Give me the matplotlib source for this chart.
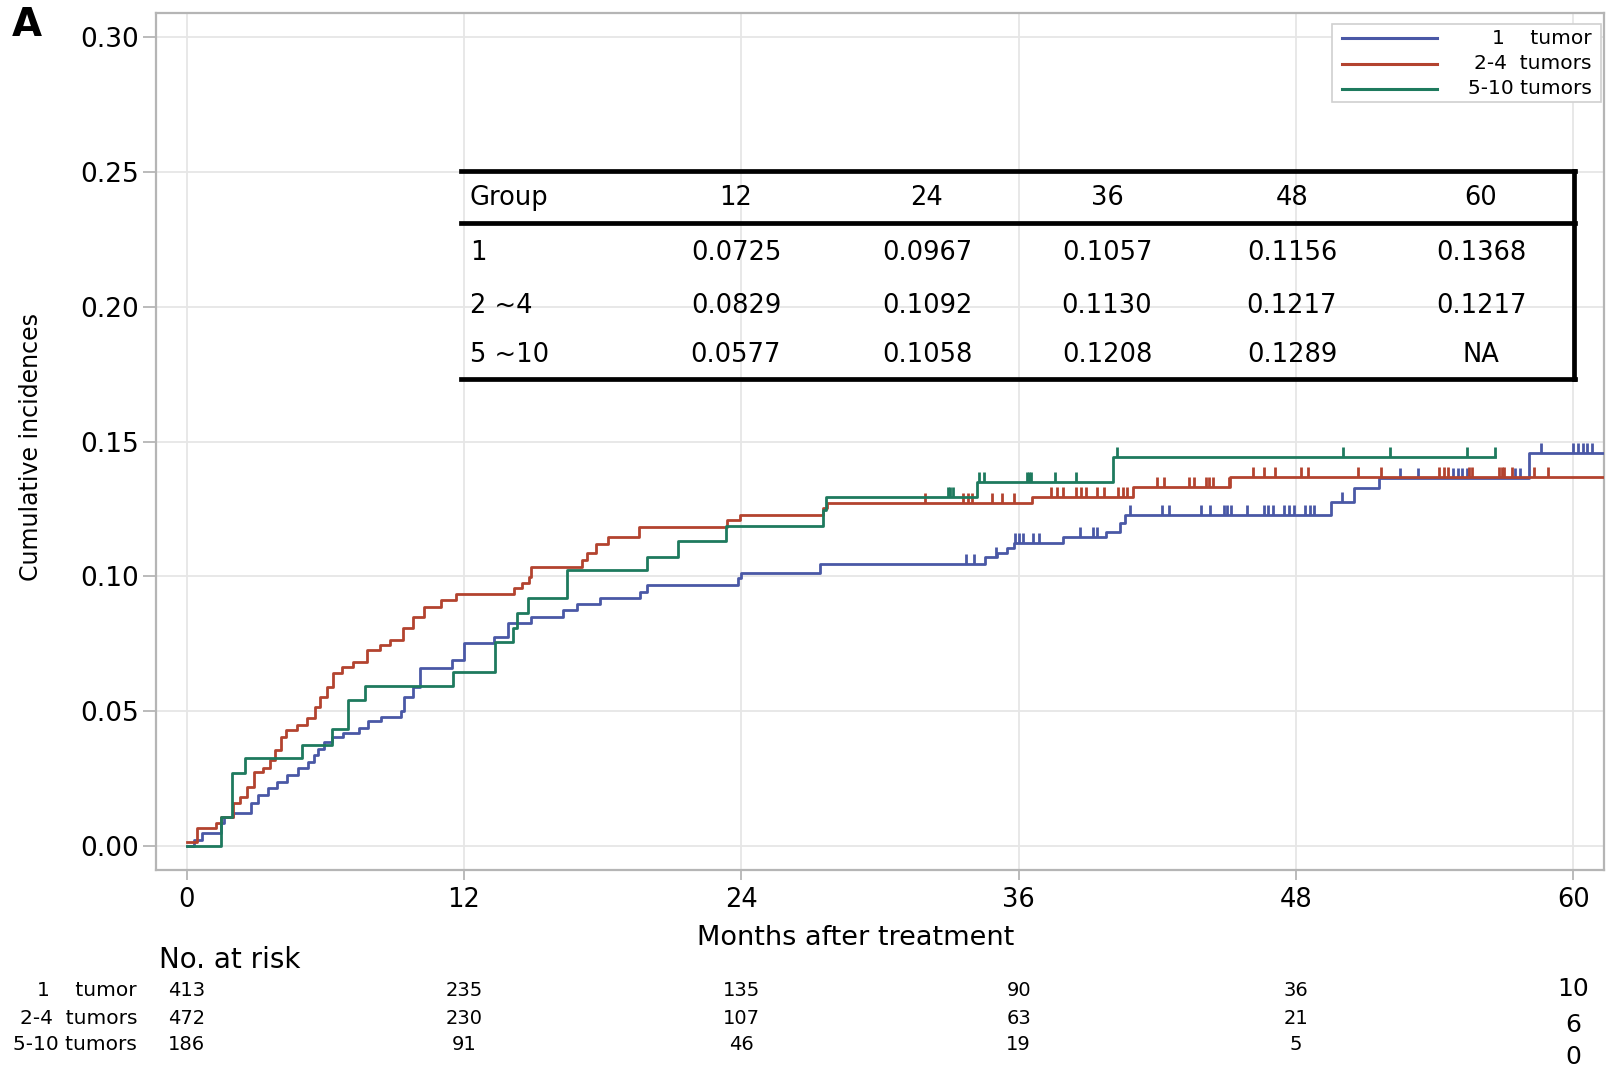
import numpy as np
import matplotlib
matplotlib.use("Agg")
import matplotlib.pyplot as plt
from matplotlib.lines import Line2D
from matplotlib.patches import Rectangle
from matplotlib.transforms import blended_transform_factory

plt.rcParams['font.family'] = ['DejaVu Sans']

# step curves (months, cumulative incidence)
t_one = [0, 0.3, 0.65, 1.47, 1.6, 2.0, 2.77, 3.1, 3.5, 3.9, 4.36, 4.8, 5.23, 5.5, 5.7, 5.95,
         6.3, 6.75, 7.47, 7.83, 8.4, 9.27, 9.4, 9.78, 10.1, 11.5, 12.0, 13.3, 13.9, 14.9,
         16.3, 16.9, 17.9, 19.6, 19.9, 23.85, 24.0, 27.4, 34.55, 35.05, 35.5, 35.8, 37.9,
         39.8, 40.4, 40.6, 49.5, 50.5, 51.6, 58.1, 61.33]
v_one = [0, 0.0022, 0.0047, 0.0084, 0.0109, 0.0121, 0.0158, 0.019, 0.0214, 0.0239, 0.0263,
         0.0288, 0.0313, 0.0337, 0.036, 0.0387, 0.0406, 0.0418, 0.0437, 0.0462, 0.048,
         0.0499, 0.0554, 0.059, 0.0659, 0.069, 0.0752, 0.0777, 0.0826, 0.085, 0.0875,
         0.0897, 0.0919, 0.0943, 0.0968, 0.0993, 0.1014, 0.1046, 0.1073, 0.1087, 0.1105,
         0.1124, 0.1147, 0.1166, 0.1198, 0.1228, 0.1277, 0.1328, 0.1365, 0.1459, 0.1459]
c_one = [33.7, 34.05, 35.0, 35.85, 36.0, 36.2, 36.6, 36.9, 38.65, 39.2, 39.4, 40.8, 42.2,
         42.5, 43.9, 44.3, 44.9, 45.0, 45.2, 45.9, 46.6, 46.8, 47.0, 47.5, 47.7, 47.9,
         48.4, 48.6, 48.8, 50.0, 52.5, 53.3, 54.8, 55.0, 55.2, 55.4, 57.5, 57.7, 58.6,
         60.0, 60.2, 60.4, 60.6, 60.8]

t_two = [0, 0.46, 1.26, 1.47, 2.02, 2.3, 2.6, 2.9, 3.3, 3.6, 3.8, 4.1, 4.3, 4.76, 5.2, 5.55,
         5.77, 6.06, 6.35, 6.7, 7.2, 7.8, 8.36, 8.8, 9.35, 9.8, 10.27, 11.0, 11.65, 14.15,
         14.5, 14.8, 14.9, 17.1, 17.3, 17.7, 18.25, 19.55, 23.4, 23.95, 27.55, 27.7, 36.57,
         40.96, 45.15, 61.33]
v_two = [0.0016, 0.0067, 0.0085, 0.0109, 0.0158, 0.0183, 0.022, 0.0276, 0.0288, 0.0319,
         0.0356, 0.0405, 0.043, 0.0449, 0.0473, 0.0517, 0.0554, 0.059, 0.064, 0.0665,
         0.0684, 0.0727, 0.0746, 0.0764, 0.081, 0.085, 0.0887, 0.0912, 0.0935, 0.0956,
         0.0974, 0.0999, 0.1036, 0.1061, 0.1087, 0.112, 0.1145, 0.1185, 0.121, 0.1228,
         0.1252, 0.1271, 0.1295, 0.1331, 0.1368, 0.1368]
c_two = [31.95, 33.6, 33.8, 34.0, 34.85, 35.3, 35.8, 37.4, 37.65, 37.9, 38.5, 38.7, 38.9,
         39.4, 39.7, 40.3, 40.5, 40.7, 41.97, 42.3, 43.35, 43.6, 44.1, 44.25, 44.4, 45.1,
         46.15, 46.6, 47.1, 48.2, 48.5, 50.7, 51.7, 54.2, 54.4, 54.6, 55.5, 55.6, 56.8,
         56.9, 57.0, 57.35, 58.3, 58.9]

t_five = [0, 1.47, 1.95, 2.52, 4.98, 6.27, 6.98, 7.72, 11.52, 13.34, 14.12, 14.28, 14.78,
          16.44, 19.9, 21.27, 23.34, 27.55, 27.65, 34.18, 40.1, 56.6]
v_five = [0, 0.0109, 0.027, 0.0326, 0.0375, 0.0434, 0.054, 0.0595, 0.0647, 0.0757, 0.0808,
          0.0864, 0.092, 0.1024, 0.1073, 0.1132, 0.1188, 0.1246, 0.1293, 0.1351, 0.1443,
          0.1443]
c_five = [32.95, 33.05, 33.15, 34.3, 34.5, 36.35, 36.45, 36.55, 37.57, 38.5, 40.24, 50.05,
          52.07, 55.4, 56.6]

group_labels = ['1    tumor', '2-4  tumors', '5-10 tumors']
colors = ['#4a58a6', '#b3432f', '#1e7a5e']

# inset table
tab_header = ['Group', '12', '24', '36', '48', '60']
tab_groups = ['1', '2 ~4', '5 ~10']
tab_values = [['0.0725', '0.0967', '0.1057', '0.1156', '0.1368'],
              ['0.0829', '0.1092', '0.1130', '0.1217', '0.1217'],
              ['0.0577', '0.1058', '0.1208', '0.1289', 'NA']]

# numbers at risk
risk_months = [0, 12, 24, 36, 48]
risk_one = [413, 235, 135, 90, 36]
risk_two = [472, 230, 107, 63, 21]
risk_five = [186, 91, 46, 19, 5]
risk_last = [10, 6, 0]

W, H = 1612, 1068


def fx(px):
    return px / W


def fy(py):
    return 1 - py / H


fig = plt.figure(figsize=(W / 100, H / 100), dpi=100)
ax = fig.add_axes([fx(156), fy(870), (1604 - 156) / W, (870 - 12.7) / H])

tick_mark = [(0, 0), (0, 1)]
series = [(t_one, v_one, c_one), (t_two, v_two, c_two), (t_five, v_five, c_five)]
for (t, v, cens), col in zip(series, colors):
    ax.step(t, v, where='post', color=col, lw=2.0, zorder=3)
    t_arr = np.array(t)
    idx = np.searchsorted(t_arr, cens, side='right') - 1
    ax.plot(cens, np.array(v)[idx], linestyle='none', marker=tick_mark, ms=15, mew=2.0,
            color=col, zorder=3)

ax.set_xlim(-1.33, 61.33)
ax.set_ylim(-0.0089, 0.3091)
ax.set_xticks([0, 12, 24, 36, 48, 60])
ax.set_yticks(np.arange(0, 0.31, 0.05))
ax.set_yticklabels(['%.2f' % y for y in np.arange(0, 0.31, 0.05)])
ax.grid(True, color='#e6e6e6', lw=1.3, zorder=0)
ax.set_axisbelow(True)
for s in ax.spines.values():
    s.set_color('#b5b5b5')
    s.set_linewidth(1.6)
ax.tick_params(axis='x', direction='out', length=7, width=1.3, color='#b5b5b5',
               labelsize=18.5, pad=5)
ax.tick_params(axis='y', direction='out', length=9.5, width=1.3, color='#b5b5b5',
               labelsize=19, pad=3)

ax.set_xlabel('Months after treatment', fontsize=19.5)
ax.xaxis.set_label_coords((856 - 156) / 1448, -(938 - 870) / 857.3)
ax.xaxis.label.set_va('center')
ax.set_ylabel('Cumulative incidences', fontsize=17)
ax.yaxis.set_label_coords((31 - 156) / 1448, (870 - 447) / 857.3)
ax.yaxis.label.set_va('center')

# legend box
fig.patches.append(Rectangle((fx(1332), fy(102)), fx(1601) - fx(1332), fy(24) - fy(102),
                             transform=fig.transFigure, facecolor='white',
                             edgecolor='#d0d0d0', lw=1.2, zorder=5))
for i, (lab, col) in enumerate(zip(group_labels, colors)):
    yy = fy(38 + 25.5 * i)
    fig.lines.append(Line2D([fx(1342), fx(1437)], [yy, yy], color=col, lw=2.2,
                            transform=fig.transFigure, zorder=6))
    fig.text(fx(1592), yy, lab, ha='right', va='center', fontsize=14.5, zorder=6)

# inset table
tk = 3.4
fig.lines.append(Line2D([fx(461), fx(1575)], [fy(171), fy(171)], color='black', lw=tk,
                        transform=fig.transFigure, zorder=6))
fig.lines.append(Line2D([fx(461), fx(1575)], [fy(223), fy(223)], color='black', lw=tk,
                        transform=fig.transFigure, zorder=6))
fig.lines.append(Line2D([fx(461), fx(1575)], [fy(379), fy(379)], color='black', lw=tk,
                        transform=fig.transFigure, zorder=6))
fig.lines.append(Line2D([fx(1574), fx(1574)], [fy(171), fy(379)], color='black', lw=tk,
                        transform=fig.transFigure, zorder=6))
col_x = [736, 927, 1107, 1292, 1481]
row_y = [253, 306, 355]
fig.text(fx(470), fy(198), tab_header[0], ha='left', va='center', fontsize=18.5)
for cx, h in zip(col_x, tab_header[1:]):
    fig.text(fx(cx), fy(198), h, ha='center', va='center', fontsize=18.5)
for ry, g, vals in zip(row_y, tab_groups, tab_values):
    fig.text(fx(470), fy(ry), g, ha='left', va='center', fontsize=18.5)
    for cx, val in zip(col_x, vals):
        fig.text(fx(cx), fy(ry), val, ha='center', va='center', fontsize=18.5)

# numbers at risk
fig.text(fx(159), fy(960), 'No. at risk', ha='left', va='center', fontsize=20)
trans = blended_transform_factory(ax.transData, fig.transFigure)
for ry, lab, counts in zip([991, 1018, 1045], group_labels, [risk_one, risk_two, risk_five]):
    fig.text(fx(137), fy(ry), lab, ha='right', va='center', fontsize=14.5)
    for m, n in zip(risk_months, counts):
        ax.text(m, fy(ry), str(n), transform=trans, ha='center', va='center', fontsize=14)
for ry, n in zip([989, 1025, 1057], risk_last):
    ax.text(60, fy(ry), str(n), transform=trans, ha='center', va='center', fontsize=18)

fig.text(fx(12), fy(25), 'A', ha='left', va='center', fontsize=28, fontweight='bold')

fig.savefig('out.png', dpi=100)
